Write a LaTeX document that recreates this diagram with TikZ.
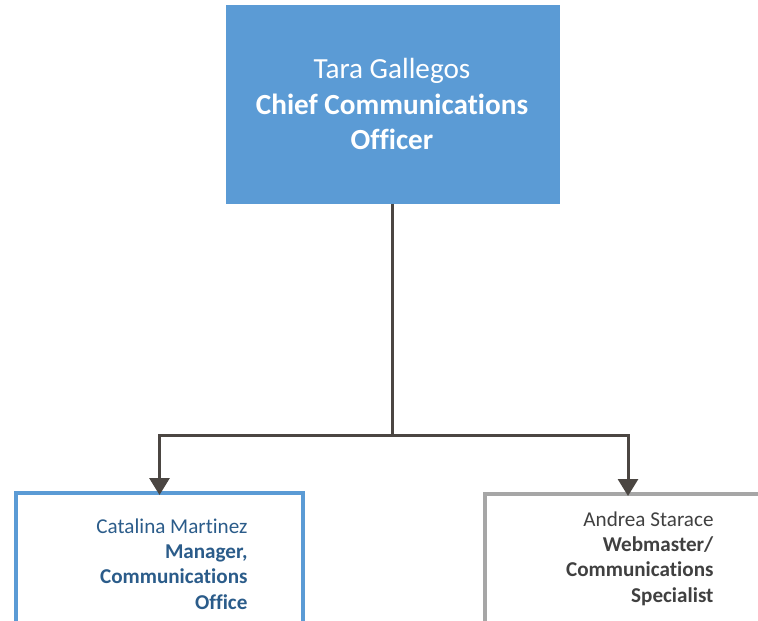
\documentclass[tikz,border=0pt]{standalone}
\usepackage{fontspec}
\setmainfont[Ligatures=NoCommon]{Carlito}
\usetikzlibrary{arrows.meta}
\definecolor{topblue}{HTML}{5B9BD5}
\definecolor{linebrown}{HTML}{4B4642}
\definecolor{darkblue}{HTML}{2B5C8A}
\definecolor{darkgray}{HTML}{404040}
\definecolor{bordergray}{HTML}{A6A6A6}
\tikzset{
  topbox/.style={draw=none, fill=topblue, minimum width=334bp, minimum height=199bp, inner sep=0pt},
  childbox/.style={draw=#1, fill=white, line width=4bp, minimum width=287bp, minimum height=150bp, inner sep=0pt, outer sep=0pt},
  toptext/.style={text=white, align=center, font=\fontsize{29.3}{36}\selectfont},
  childtext/.style={text=#1, align=right, anchor=east, font=\fontsize{21.2}{25.5}\selectfont},
  conn/.style={draw=linebrown, line width=3bp},
  arr/.style={conn, -{Triangle[width=20bp,length=17bp]}}
}
\begin{document}
\begin{tikzpicture}[x=1bp,y=-1bp]
\useasboundingbox (0,0) rectangle (758,621);
\clip (0,0) rectangle (758,621);
\node[topbox] (top) at (393,104.5) {};
\node[toptext] (toptxt) at (392,104) {Tara Gallegos\\\textbf{Chief Communications}\\\textbf{Officer}};
\node[childbox=topblue, anchor=north] (left) at (159.5,493) {};
\node[childbox=bordergray, anchor=north] (right) at (628,494) {};
\node[childtext=darkblue] (lefttxt) at (251,564) {Catalina Martinez\\\textbf{Manager,}\\\textbf{Communications}\\\textbf{Office}};
\node[childtext=darkgray] (righttxt) at (717,558.5) {Andrea Starace\\\textbf{Webmaster/}\\\textbf{Communications}\\\textbf{Specialist}};
\coordinate (junc) at (392,435);
\draw[conn] (392,204) -- (junc);
\draw[arr] (junc) -| ([yshift=-2bp]left.north);
\draw[arr] (junc) -| ([yshift=-2bp]right.north);
\end{tikzpicture}
\end{document}
